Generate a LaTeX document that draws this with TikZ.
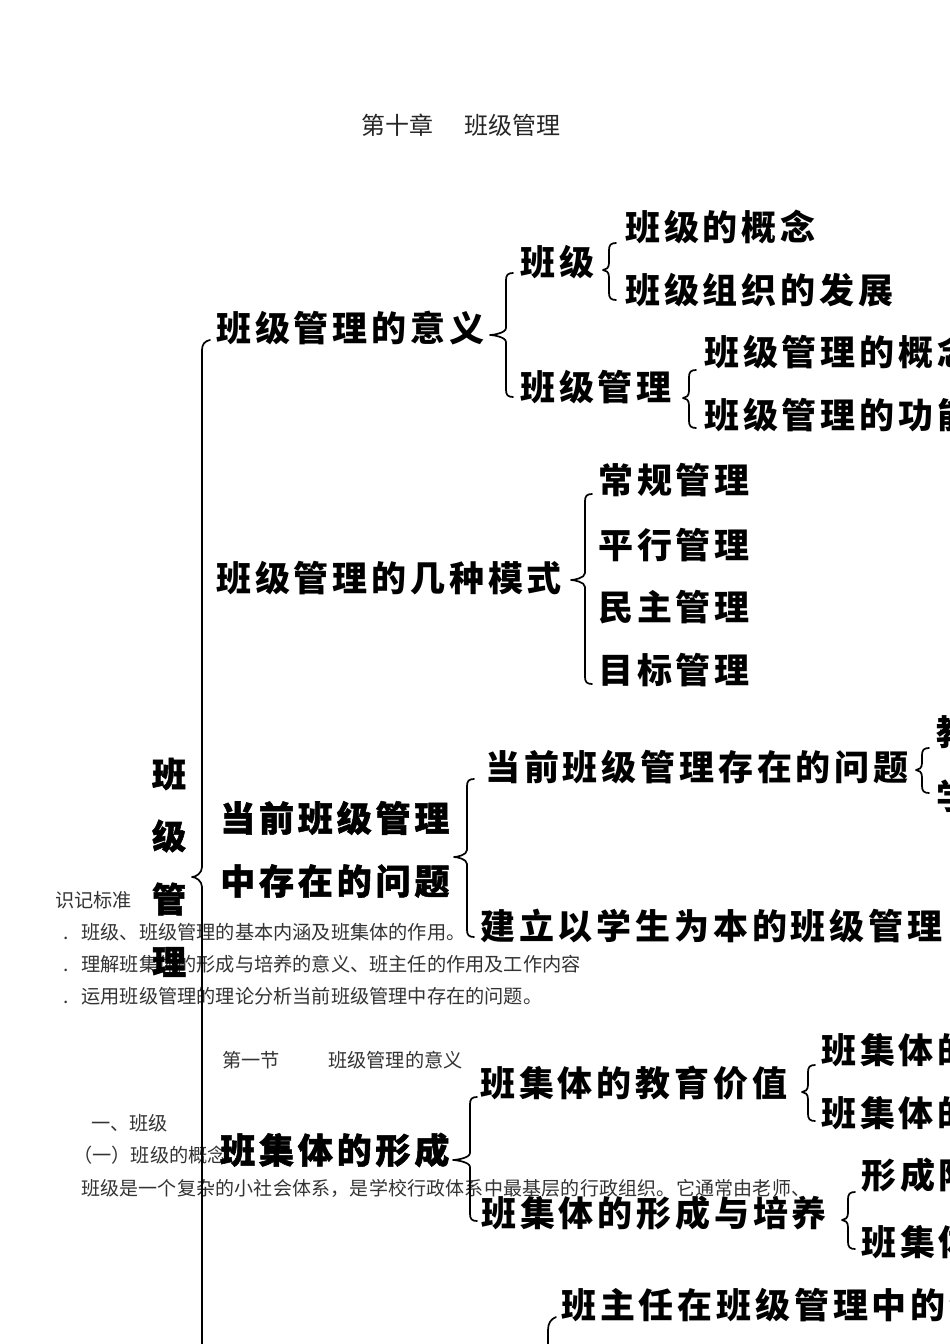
\documentclass[tikz,border=0pt]{standalone}
\usepackage{fontspec}
\newfontfamily\cjk{Noto Sans CJK SC}
\newfontfamily\cjkls{Noto Sans CJK SC}[LetterSpace=11]
\newfontfamily\cjkheavy{Noto Sans CJK SC}[LetterSpace=11,FakeBold=1.5]
\newfontfamily\cjkheavyo{Noto Sans CJK SC}[FakeBold=1.5]
\newfontfamily\cjkwide{Noto Sans CJK SC}[LetterSpace=1]
\newcommand\mybrace[5]{% x, ytop, ymid, ybot, notch depth
  \draw[brc] (#1+7,#2) .. controls (#1+2,#2) and (#1,#2+2) .. (#1,#2+7)
    -- (#1,#3-7) .. controls (#1,#3-2) and (#1-#5+3,#3) .. (#1-#5,#3)
    .. controls (#1-#5+3,#3) and (#1,#3+2) .. (#1,#3+7)
    -- (#1,#4-7) .. controls (#1,#4-2) and (#1+2,#4) .. (#1+7,#4);}
\tikzset{
  big/.style={anchor=west,inner sep=0pt,font=\cjkls\bfseries\fontsize{35}{35}\selectfont},
  heavy/.style={anchor=west,inner sep=0pt,font=\cjkheavy\bfseries\fontsize{35}{35}\selectfont},
  vchar/.style={anchor=center,inner sep=0pt,font=\cjkheavyo\bfseries\fontsize{34}{34}\selectfont},
  note/.style={anchor=west,inner sep=0pt,text=black!80,font=\cjk\fontsize{19.2}{19.2}\selectfont},
  notew/.style={anchor=west,inner sep=0pt,text=black!80,font=\cjkwide\fontsize{19}{19}\selectfont},
  ttl/.style={anchor=west,inner sep=0pt,text=black!85,font=\cjk\fontsize{24}{24}\selectfont},
  brc/.style={line width=1.7pt,line cap=round,line join=round}
}
\begin{document}
\begin{tikzpicture}[x=1pt,y=-1pt]
\useasboundingbox (0,0) rectangle (950,1344);
\fill[white] (0,0) rectangle (950,1344);
\clip (0,0) rectangle (950,1344);

% ---- overlaid page text ----
\node[ttl] (title) at (361,125) {第十章\hspace{31pt}班级管理};
\node[note] (std) at (55,900) {识记标准};
\node[note] (s1) at (63,932) {.\hspace{13pt}班级、班级管理的基本内涵及班集体的作用。};
\node[note] (s2) at (63,964) {.\hspace{13pt}理解班集体的形成与培养的意义、班主任的作用及工作内容};
\node[note] (s3) at (63,996) {.\hspace{13pt}运用班级管理的理论分析当前班级管理中存在的问题。};
\node[note] (sec1) at (222,1060) {第一节};
\node[note] (sec1b) at (328,1060) {班级管理的意义};
\node[note] (h1) at (91,1123) {一、班级};
\node[note] (h2) at (73,1155) {（一）班级的概念};
\node[notew] (p1) at (81,1188) {班级是一个复杂的小社会体系，是学校行政体系中最基层的行政组织。它通常由老师、};

% ---- scanned mind map ----
\node[vchar] (r1) at (169,774) {班};
\node[vchar] (r2) at (169,836) {级};
\node[vchar] (r3) at (169,899) {管};
\node[vchar] (r4) at (169,962) {理};
\draw[brc] (210,340) .. controls (205,341) and (202,344) .. (202,350)
  -- (202,867) .. controls (202,873) and (196,877) .. (192,877)
  .. controls (196,877) and (202,881) .. (202,887) -- (202,1350);

\node[big] (a) at (216,328) {班级管理的意义};
\mybrace{506}{273}{335}{397}{16}
\node[big] (a1) at (520,262) {班级};
\mybrace{609}{243}{270}{300}{6}
\node[big] (a11) at (625,227) {班级的概念};
\node[big] (a12) at (625,290) {班级组织的发展};
\node[big] (a2) at (520,387) {班级管理};
\mybrace{689}{370}{398}{428}{6}
\node[big] (a21) at (704,352) {班级管理的概念};
\node[big] (a22) at (704,415) {班级管理的功能};

\node[big] (b) at (216,578) {班级管理的几种模式};
\mybrace{585}{494}{580}{684}{14}
\node[big] (b1) at (598,480) {常规管理};
\node[big] (b2) at (598,545) {平行管理};
\node[big] (b3) at (598,607) {民主管理};
\node[big] (b4) at (598,670) {目标管理};

\node[heavy] (c) at (220,818) {当前班级管理};
\node[heavy] (cb) at (220,881) {中存在的问题};
\mybrace{467}{779}{857}{937}{13}
\node[big] (c1) at (485,767) {当前班级管理存在的问题};
\mybrace{922}{748}{770}{793}{6}
\node[big] (c11) at (936,732) {教师};
\node[big] (c12) at (936,796) {学生};
\node[big] (c2) at (480,926) {建立以学生为本的班级管理};

\node[heavy] (d) at (220,1150) {班集体的形成};
\mybrace{470}{1097}{1160}{1221}{17}
\node[big] (d1) at (480,1083) {班集体的教育价值};
\mybrace{808}{1065}{1092}{1121}{6}
\node[big] (d11) at (821,1050) {班集体的};
\node[big] (d12) at (821,1113) {班集体的};
\node[big] (d2) at (481,1213) {班集体的形成与培养};
\mybrace{848}{1192}{1220}{1249}{6}
\node[big] (d21) at (861,1175) {形成阶段};
\node[big] (d22) at (861,1242) {班集体};

\node[big] (e) at (561,1305) {班主任在班级管理中的作用};
\draw[brc] (556,1317) .. controls (551,1319) and (548,1323) .. (548,1330) -- (548,1350);
\end{tikzpicture}
\end{document}
